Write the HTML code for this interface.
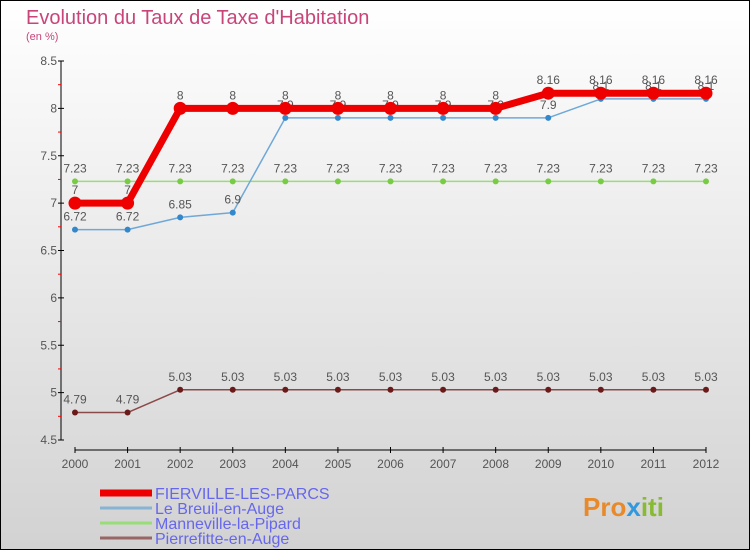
<!DOCTYPE html>
<html><head><meta charset="utf-8"><style>
body{margin:0;width:750px;height:550px;overflow:hidden;font-family:"Liberation Sans",sans-serif}
</style></head><body>
<svg id="chart" width="750" height="550" xmlns="http://www.w3.org/2000/svg" font-family="Liberation Sans, sans-serif">
<defs><linearGradient id="bg" x1="0" y1="0" x2="0" y2="1"><stop offset="0" stop-color="#ffffff"/><stop offset="1" stop-color="#d2d2d2"/></linearGradient></defs>
<rect x="0.5" y="0.5" width="749" height="549" fill="url(#bg)" stroke="#000"/>
<text x="26" y="24" font-size="20" fill="#c8457a">Evolution du Taux de Taxe d'Habitation</text>
<text x="26" y="40" font-size="11" fill="#c8457a">(en %)</text>
<g id="axes"></g><g id="series"></g><g id="legend"></g>
<text x="583" y="516" font-size="26" font-weight="bold" fill="#e88a2a">Pro<tspan fill="#3399dd">x</tspan><tspan fill="#88bb33">iti</tspan></text>
</svg>
<script>
const years=[2000,2001,2002,2003,2004,2005,2006,2007,2008,2009,2010,2011,2012];
const fierville=[7,7,8,8,8,8,8,8,8,8.16,8.16,8.16,8.16];
const breuil=[6.72,6.72,6.85,6.9,7.9,7.9,7.9,7.9,7.9,7.9,8.1,8.1,8.1];
const manneville=[7.23,7.23,7.23,7.23,7.23,7.23,7.23,7.23,7.23,7.23,7.23,7.23,7.23];
const pierrefitte=[4.79,4.79,5.03,5.03,5.03,5.03,5.03,5.03,5.03,5.03,5.03,5.03,5.03];
const yTicks=[4.5,5,5.5,6,6.5,7,7.5,8,8.5];
const NS="http://www.w3.org/2000/svg";
const xs=i=>75+i*(706-75)/12;
const ys=v=>440-(v-4.5)*(440-61)/4;
function mk(p,t,a){const e=document.createElementNS(NS,t);for(const k in a)e.setAttribute(k,a[k]);p.appendChild(e);return e;}
const ax=document.getElementById('axes');
let l=mk(ax,'line',{x1:61,y1:61,x2:61,y2:440,stroke:'#000'});

l=mk(ax,'line',{x1:75,y1:450,x2:706,y2:450,stroke:'#000'});

yTicks.forEach((v,i)=>{
  mk(ax,'line',{x1:58,y1:ys(v),x2:64,y2:ys(v),stroke:'#000'});
  if(i<yTicks.length-1)mk(ax,'line',{x1:58,y1:ys(v+0.25),x2:61,y2:ys(v+0.25),stroke:'#f00'});
  const t=mk(ax,'text',{x:57,y:ys(v)+4,'font-size':12,fill:'#555','text-anchor':'end'});t.textContent=v;
  
});
years.forEach((y,i)=>{
  mk(ax,'line',{x1:xs(i),y1:447,x2:xs(i),y2:453,stroke:'#000'});
  const t=mk(ax,'text',{x:xs(i),y:468,'font-size':12,fill:'#555','text-anchor':'middle'});t.textContent=y;
  
});
const sg=document.getElementById('series');
function series(vals,color,w,r,dot,name){
  const g=mk(sg,'g',{});
  
  mk(g,'polyline',{points:vals.map((v,i)=>xs(i)+','+ys(v)).join(' '),fill:'none',stroke:color,'stroke-width':w,'stroke-linejoin':'round'});
  vals.forEach((v,i)=>{
    const c=mk(g,'circle',{cx:xs(i),cy:ys(v),r:r,fill:dot});
    
    const t=mk(g,'text',{x:xs(i),y:ys(v)-9,'font-size':12,fill:'#555','text-anchor':'middle'});t.textContent=v;
  });
}
series(manneville,'#99dd77',1.5,3,'#77cc44','manneville-series');
series(breuil,'#6fa8d8',1.5,3,'#3388cc','breuil-series');
series(pierrefitte,'#8b4a4a',1.5,3,'#6b1a1a','pierrefitte-series');
series(fierville,'#ee0000',7,6.5,'#ee0000','fierville-series');
const lg=document.getElementById('legend');
const names=['FIERVILLE-LES-PARCS','Le Breuil-en-Auge','Manneville-la-Pipard','Pierrefitte-en-Auge'];
const cols=['#ee0000','#88b4d4','#99dd77','#996666'];
names.forEach((n,i)=>{
  const y=493+i*15;
  const ln=mk(lg,'line',{x1:100,y1:y,x2:152,y2:y,stroke:cols[i],'stroke-width':i==0?7:3});
  
  const t=mk(lg,'text',{x:155,y:y+6,'font-size':16,fill:'#6666ee'});t.textContent=n;
  
});
</script>
</body></html>
